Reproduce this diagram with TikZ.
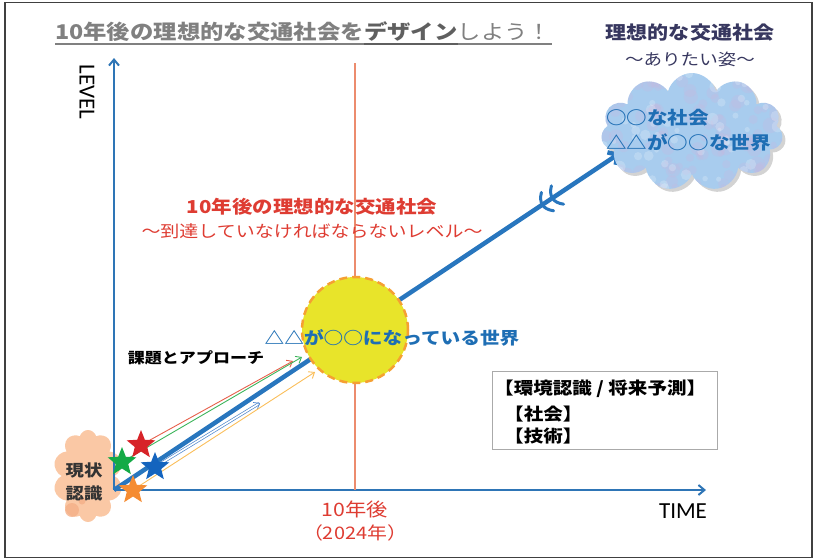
\documentclass[tikz,border=0pt]{standalone}
\usepackage{fontspec}
\setmainfont{Noto Sans CJK JP}[FakeStretch=1.15]
\newfontfamily\latin{Carlito}
\usetikzlibrary{arrows.meta,shapes.geometric,shapes.symbols,shadows,calc}
\definecolor{axisblue}{RGB}{46,117,182}
\definecolor{mainblue}{RGB}{40,118,190}
\definecolor{vline}{RGB}{236,140,110}
\definecolor{redtxt}{RGB}{222,60,50}
\definecolor{sunfill}{RGB}{232,228,42}
\definecolor{sunedge}{RGB}{245,160,50}
\definecolor{bluetxt}{RGB}{30,110,180}
\definecolor{navy}{RGB}{55,55,95}
\definecolor{titlegray}{RGB}{128,128,128}
\definecolor{titledark}{RGB}{95,95,95}
\definecolor{peach}{RGB}{250,200,165}
\definecolor{peachdark}{RGB}{244,175,135}
\definecolor{cloudblue}{RGB}{168,204,238}
\definecolor{cloudpink}{RGB}{205,180,220}
\definecolor{starred}{RGB}{215,35,40}
\definecolor{stargreen}{RGB}{20,170,70}
\definecolor{starblue}{RGB}{20,100,190}
\definecolor{starorange}{RGB}{245,140,50}
\definecolor{arrred}{RGB}{230,95,75}
\definecolor{arrgreen}{RGB}{60,180,90}
\definecolor{arrorange}{RGB}{250,190,90}
\definecolor{arrblue}{RGB}{80,135,205}
\definecolor{boxgray}{RGB}{170,170,170}
\begin{document}
\begin{tikzpicture}[x=1pt,y=-1pt,
  jp/.style={inner sep=0pt},
  axisline/.style={draw=axisblue,line width=2pt,-{Straight Barb[length=6pt,width=10pt]}},
  thinarr/.style={line width=0.9pt,-{Straight Barb[length=5pt,width=8pt]}},
  starshape/.style={star,star points=5,star point ratio=2.3,minimum size=30pt,inner sep=0pt,draw=none},
  boxtxt/.style={jp,anchor=west,font=\bfseries\fontsize{17}{20}\selectfont},
  brk/.style={mainblue,line width=3pt,line cap=round}
]
\useasboundingbox (0,0) rectangle (815,560);
\draw[line width=1.5pt,draw=black!75] (5,2.5) rectangle (812,557.5);

% title
\node[jp,anchor=base west,text=titlegray,font=\bfseries\fontsize{20.3}{24}\selectfont] (t1) at (55,39) {10年後の理想的な交通社会を};
\node[jp,anchor=base west,text=titledark,font=\bfseries\fontsize{20.3}{24}\selectfont] (t2) at (t1.base east) {デザイン};
\node[jp,anchor=base west,text=titlegray,font=\fontsize{20.3}{24}\selectfont] (t3) at (t2.base east) {しよう！};
\draw[titlegray,line width=1.2pt] (t1.west |- 0,44) -- (t3.east |- 0,44);
\draw[titledark,line width=2pt] (t2.west |- 0,44) -- (t2.east |- 0,44);

% orange cloud (current state)
\node[cloud,cloud puffs=10,cloud ignores aspect,minimum width=70pt,minimum height=92pt,fill=peach,draw=none] (cur) at (88,476) {};
\fill[peachdark,opacity=0.8] (72,510) circle (7);
\fill[peachdark,opacity=0.8] (82,501) circle (3.5);
\node[jp,align=center,text=black!80,font=\bfseries\fontsize{16}{23}\selectfont] (curtxt) at (84,482) {現状\\認識};

% axes
\coordinate (o) at (114,490);
\coordinate (ytop) at (114,58);
\coordinate (xend) at (706,490);
\draw[axisline] (o) -- (ytop);
\draw[axisline] (o) -- (xend);
\node[jp,rotate=-90,font=\latin\fontsize{23}{26}\selectfont] (lvl) at (87,92) {LEVEL};
\node[jp,font=\latin\fontsize{23}{26}\selectfont] (time) at (683,511) {TIME};

% vertical 10-year line
\coordinate (vtop) at (355,63);
\coordinate (vbot) at (355,490);
\draw[vline,line width=1.5pt] (vtop) -- (vbot);
\node[jp,text=redtxt,font=\fontsize{18.5}{22}\selectfont] (y10) at (355,509) {10年後};
\node[jp,text=redtxt,font=\fontsize{17.3}{22}\selectfont] (y2024) at (355,533) {（2024年）};

% red caption
\node[jp,text=redtxt,font=\bfseries\fontsize{17.8}{24}\selectfont] (goal1) at (312,207) {10年後の理想的な交通社会};
\node[jp,text=redtxt,font=\fontsize{16.5}{22}\selectfont] (goal2) at (312,231) {～到達していなければならないレベル～};

% main thick arrow
\coordinate (tip) at (620,153);
\draw[mainblue,line width=4.5pt,-{Straight Barb[length=7pt,width=15pt]}] (o) -- (tip);
% break mark
\draw[brk] (541.4,192.4) .. controls (538.8,203.0) and (542.8,209.2) .. (553.6,210.8);
\draw[brk] (551.4,185.8) .. controls (548.8,196.4) and (552.8,202.6) .. (563.6,204.2);

% stars coordinates
\coordinate (sr) at (141,445);
\coordinate (sg) at (122,462);
\coordinate (sb) at (155,467);
\coordinate (so) at (133,490);
\coordinate (ar) at (293,361);
\coordinate (ag) at (302,357);
\coordinate (ab) at (260,403);
\coordinate (ao) at (315,372);
\draw[thinarr,arrred] (sr) -- (ar);
\draw[thinarr,arrgreen] (sg) -- (ag);
\draw[arrblue,line width=0.7pt,double=white,double distance=1.6pt,-{Straight Barb[length=5pt,width=8pt]}] (sb) -- (ab);
\draw[thinarr,arrorange] (so) -- (ao);

\node[jp,font=\bfseries\fontsize{14.8}{20}\selectfont] (approach) at (196,358) {課題とアプローチ};

% sun
\node[circle,minimum size=106pt,fill=sunfill,draw=sunedge,line width=2.5pt,dash pattern=on 8pt off 5pt,inner sep=0pt] (sun) at (355,330) {};
\node[jp,text=bluetxt,font=\bfseries\fontsize{17.1}{24}\selectfont] (suntxt) at (392,338) {△△が○○になっている世界};

% stars
\node[starshape,fill=starred] (star1) at (sr) {};
\node[starshape,fill=stargreen] (star2) at (sg) {};
\node[starshape,fill=starblue] (star3) at (sb) {};
\node[starshape,fill=starorange] (star4) at (so) {};

% ideal cloud
\pgfmathsetseed{11}
\node[cloud,cloud puffs=11,cloud ignores aspect,minimum width=182pt,minimum height=118pt,fill=cloudblue,draw=none,
  drop shadow={shadow xshift=3pt,shadow yshift=-3pt,opacity=0.35},
  path picture={
    \foreach \k in {1,...,140}{
      \pgfmathsetmacro\rx{rand*100}
      \pgfmathsetmacro\ry{rand*65}
      \pgfmathsetmacro\rr{3+5*rnd}
      \fill[cloudpink,opacity=0.22] ([shift={(\rx,\ry)}]path picture bounding box.center) circle (\rr);
    }
    \foreach \k in {1,...,90}{
      \pgfmathsetmacro\rx{rand*100}
      \pgfmathsetmacro\ry{rand*65}
      \pgfmathsetmacro\rr{2+4*rnd}
      \fill[white,opacity=0.2] ([shift={(\rx,\ry)}]path picture bounding box.center) circle (\rr);
    }
  }] (ideal) at (692,132) {};
\node[jp,anchor=west,text=bluetxt,font=\bfseries\fontsize{17.9}{24}\selectfont] (ideal1) at (606,118) {○○な社会};
\node[jp,anchor=west,text=bluetxt,font=\bfseries\fontsize{17.9}{24}\selectfont] (ideal2) at (606,143) {△△が○○な世界};
\node[jp,text=navy,font=\bfseries\fontsize{18.3}{24}\selectfont] (idealh1) at (690,33) {理想的な交通社会};
\node[jp,text=navy,font=\fontsize{16.1}{22}\selectfont] (idealh2) at (690,59) {～ありたい姿～};

% info box
\node[draw=boxgray,line width=1pt,minimum width=225pt,minimum height=78pt,inner sep=0pt] (box) at (604.5,410) {};
\node[boxtxt] (b1) at (494,389) {【環境認識 / 将来予測】};
\node[boxtxt] (b2) at (504,414) {【社会】};
\node[boxtxt] (b3) at (504,436) {【技術】};
\end{tikzpicture}
\end{document}
